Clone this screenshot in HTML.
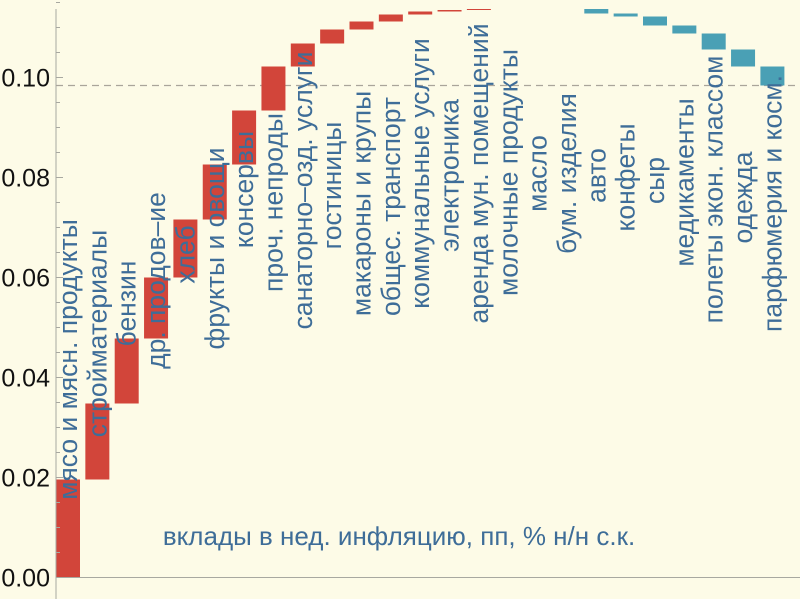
<!DOCTYPE html>
<html><head><meta charset="utf-8"><style>
html,body{margin:0;padding:0;background:#fdfbe7;}
svg{display:block;font-family:"Liberation Sans",sans-serif;}
</style></head><body>
<svg id="chart" width="800" height="599" viewBox="0 0 800 599" xmlns="http://www.w3.org/2000/svg">
<rect x="0" y="0" width="800" height="599" fill="#fdfbe7"/>
<g id="grid"></g><g id="bars"></g><g id="axes"></g><g id="labels"></g>
<text x="399" y="545" text-anchor="middle" font-size="26" fill="#3e6d98">вклады в нед. инфляцию, пп, % н/н с.к.</text>
</svg>
<script>
const categories = ["мясо и мясн. продукты","стройматериалы","бензин","др. продов–ие","хлеб","фрукты и овощи","консервы","проч. непроды","санаторно–озд. услуги","гостиницы","макароны и крупы","общес. транспорт","коммунальные услуги","электроника","аренда мун. помещений","молочные продукты","масло","бум. изделия","авто","конфеты","сыр","медикаменты","полеты экон. классом","одежда","парфюмерия и косм."];
const contributions = [0.0196,0.0152,0.0130,0.0122,0.0116,0.0110,0.0108,0.0088,0.0046,0.0028,0.0016,0.0014,0.0006,0.0003,0.0002,0,0,0,-0.0009,-0.0006,-0.0018,-0.0016,-0.0032,-0.0034,-0.0038];
const yTicks = [0,0.02,0.04,0.06,0.08,0.10];
const yTickLabels = ["0.00","0.02","0.04","0.06","0.08","0.10"];
const referenceLevel = 0.0984;
const labelCenters = [0.0436,0.0488,0.0548,0.0594,0.0646,0.0658,0.0776,0.0750,0.0774,0.0784,0.0748,0.0742,0.0808,0.0804,0.0808,0.0810,0.0808,0.0808,0.0804,0.0800,0.0794,0.0790,0.0776,0.0760,0.0748];

const NS="http://www.w3.org/2000/svg";
const X0=56, STEP=29.35, BW=24;
const y = v => 577.5 - v*5000;
const xOf = i => X0 + i*STEP;
function mk(tag, attrs, parent){const e=document.createElementNS(NS,tag);for(const k in attrs)e.setAttribute(k,attrs[k]);parent.appendChild(e);return e;}
const bars=document.getElementById('bars'), axes=document.getElementById('axes'), labels=document.getElementById('labels'), grid=document.getElementById('grid');

const ref=mk('line',{x1:X0,x2:800,y1:y(referenceLevel),y2:y(referenceLevel),stroke:'#aaa59a','stroke-width':1.2,'stroke-dasharray':'7,5'},grid);



let cum=0;
contributions.forEach((c,i)=>{
  const a=cum, b=cum+c; cum=b;
  if(c===0) return;
  const top=y(Math.max(a,b)), h=Math.max(Math.abs(y(a)-y(b)),0.8);
  const r=mk('rect',{x:xOf(i),y:top,width:BW,height:h,fill:c>=0?'#d2453a':'#4aa0b5'},bars);
  
  
});

const ya=mk('line',{x1:X0,x2:X0,y1:9,y2:599,stroke:'#a8a8a0','stroke-width':1},axes);


const xa=mk('line',{x1:X0,x2:800,y1:577.5,y2:577.5,stroke:'#a8a8a0','stroke-width':1},axes);


for(let k=0;k<=23;k++){
  const v=k*0.005, major=(k%4===0);
  const t=mk('line',{x1:X0,x2:X0+(major?7:4),y1:y(v),y2:y(v),stroke:'#a8a8a0','stroke-width':1},axes);
  
  
}
yTicks.forEach((v,i)=>{
  const t=mk('text',{x:50,y:y(v)+9,'text-anchor':'end','font-size':25,fill:'#111'},axes);
  t.textContent=yTickLabels[i];
  
  
});

categories.forEach((name,i)=>{
  const cx=xOf(i)+BW/2+9, cy=y(labelCenters[i]);
  const t=mk('text',{x:cx,y:cy,'text-anchor':'middle','font-size':26.5,fill:'#3e6d98',transform:`rotate(-90 ${cx} ${cy})`},labels);
  t.textContent=name;
  
  
});
</script>
</body></html>
